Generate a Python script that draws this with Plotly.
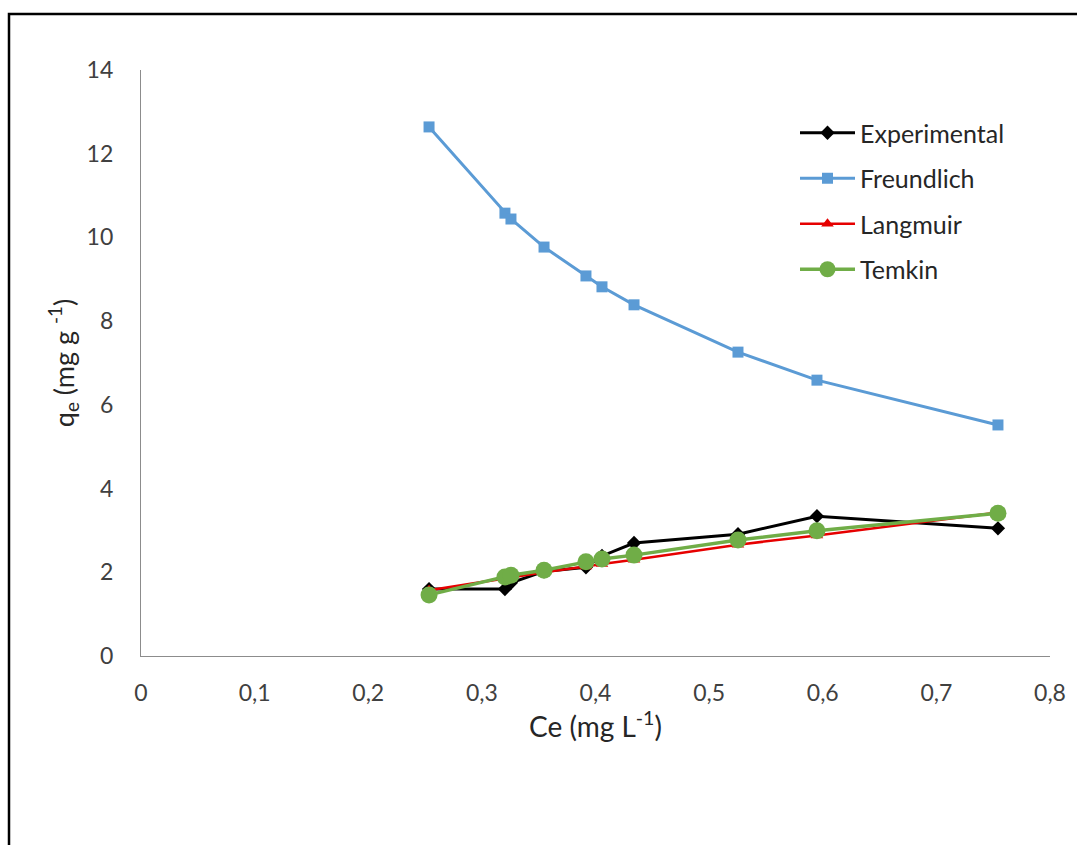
import plotly.graph_objects as go

# Equilibrium concentration Ce (mg L-1)
ce = [0.2535, 0.3203, 0.3256, 0.3547, 0.3916, 0.4057, 0.4339, 0.5254, 0.5949, 0.7542]

# Adsorbed amount qe (mg g-1): measured and fitted isotherm models
q_experimental = [1.60, 1.60, 1.75, 2.02, 2.12, 2.39, 2.70, 2.91, 3.34, 3.05]
q_freundlich = [12.64, 10.58, 10.44, 9.77, 9.08, 8.82, 8.39, 7.26, 6.59, 5.52]
q_langmuir = [1.57, 1.86, 1.89, 2.00, 2.14, 2.20, 2.30, 2.66, 2.88, 3.43]
q_temkin = [1.46, 1.89, 1.93, 2.05, 2.25, 2.32, 2.41, 2.77, 2.99, 3.41]

series_names = ["Experimental", "Freundlich", "Langmuir", "Temkin"]

W, H = 1077, 845
L, R, T, B = 141, 27, 70, 189
FONT = "Lato, 'Open Sans', sans-serif"

fig = go.Figure()

styles = [
    (q_experimental, "#000000", 3, "diamond", 11),
    (q_freundlich, "#5B9BD5", 3, "square", 11),
    (q_langmuir, "#E60000", 2.5, "triangle-up", 11),
    (q_temkin, "#70AD47", 3.5, "circle", 17),
]

for name, (vals, color, lw, sym, ms) in zip(series_names, styles):
    fig.add_trace(go.Scatter(
        x=ce, y=vals, name=name, legendgroup=name,
        mode="lines+markers",
        line=dict(color=color, width=lw),
        marker=dict(symbol=sym, size=ms, color=color, line=dict(width=0)),
    ))

# outer chart frame (runs past the right and bottom edges of the page)
def px_to_paper_x(px):
    return (px - L) / (W - L - R)

def px_to_paper_y(py):
    return (H - B - py) / (H - T - B)

fig.add_shape(
    type="rect", xref="paper", yref="paper",
    x0=px_to_paper_x(9), x1=px_to_paper_x(1100),
    y0=px_to_paper_y(14), y1=px_to_paper_y(880),
    line=dict(color="#000000", width=2.5), fillcolor="rgba(0,0,0,0)",
    layer="above",
)

axis_common = dict(
    showgrid=False, zeroline=False,
    showline=True, linecolor="#8C8C8C", linewidth=1.2,
    ticks="", tickfont=dict(family=FONT, size=23, color="#404040"),
)

fig.update_layout(
    width=W, height=H,
    margin=dict(l=L, r=R, t=T, b=B, autoexpand=False),
    paper_bgcolor="white", plot_bgcolor="white",
    separators=", ",
    font=dict(family=FONT, color="#404040"),
    xaxis=dict(
        range=[0, 0.8], dtick=0.1, tick0=0,
        ticklabelstandoff=16,
        title=dict(text="Ce (mg L<sup>-1</sup>)", standoff=12,
                   font=dict(family=FONT, size=28, color="#262626")),
        **axis_common,
    ),
    yaxis=dict(
        range=[0, 14], dtick=2, tick0=0,
        ticklabelstandoff=22,
        title=dict(text="q<sub>e</sub> (mg g <sup>-1</sup>)", standoff=4,
                   font=dict(family=FONT, size=27, color="#262626")),
        **axis_common,
    ),
    legend=dict(
        x=px_to_paper_x(795), y=px_to_paper_y(110),
        xanchor="left", yanchor="top",
        bgcolor="rgba(0,0,0,0)",
        font=dict(family=FONT, size=25, color="#262626"),
        tracegroupgap=10, itemwidth=55,
    ),
    showlegend=True,
)

fig.write_html("out.html")
